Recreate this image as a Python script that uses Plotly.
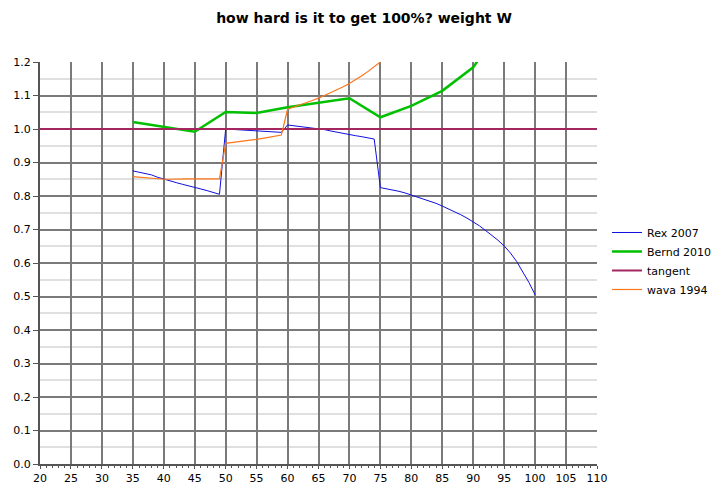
import plotly.graph_objects as go

# Rex 2007
rex_x = list(range(35, 101))
rex_y = [0.875, 0.871, 0.868, 0.863, 0.856, 0.850, 0.846, 0.840, 0.835, 0.831,
         0.826, 0.821, 0.816, 0.811, 0.805,
         1.000, 0.999, 0.998, 0.997, 0.997, 0.996, 0.995, 0.993, 0.992, 0.990,
         1.012, 1.010, 1.008, 1.006, 1.004, 1.001, 0.998, 0.994, 0.990, 0.986,
         0.982, 0.980, 0.977, 0.974, 0.970,
         0.825, 0.822, 0.818, 0.814, 0.809, 0.803, 0.797, 0.791, 0.785, 0.778,
         0.770, 0.762, 0.754, 0.744, 0.734, 0.723, 0.711, 0.697, 0.683, 0.668,
         0.651, 0.630, 0.605, 0.575, 0.542, 0.505]

# Bernd 2010
bernd_x = [35, 40, 45, 50, 55, 60, 65, 70, 75, 80, 85, 90, 95]
bernd_y = [1.021, 1.006, 0.992, 1.051, 1.048, 1.065, 1.078, 1.092, 1.035,
           1.069, 1.114, 1.184, 1.32]

# tangent
tan_x = [20, 110]
tan_y = [1.0, 1.0]

# wava 1994
wava_x = list(range(35, 76))
wava_y = [0.858, 0.856, 0.855, 0.853, 0.851, 0.850, 0.850, 0.851, 0.851, 0.851,
          0.851, 0.851, 0.851, 0.851, 0.851,
          0.957, 0.959, 0.961, 0.963, 0.966, 0.969, 0.972, 0.975, 0.978, 0.982,
          1.059, 1.065, 1.071, 1.078, 1.085, 1.092, 1.100, 1.108, 1.117, 1.126,
          1.136, 1.147, 1.159, 1.172, 1.186, 1.200]

x_ticks = list(range(20, 111, 5))

fig = go.Figure()
fig.add_trace(go.Scatter(x=rex_x, y=rex_y, mode="lines", name="Rex 2007",
                         line=dict(color="#1010e0", width=1)))
fig.add_trace(go.Scatter(x=bernd_x, y=bernd_y, mode="lines", name="Bernd 2010",
                         line=dict(color="#00c000", width=2.5)))
fig.add_trace(go.Scatter(x=tan_x, y=tan_y, mode="lines", name="tangent",
                         line=dict(color="#a3265f", width=2)))
fig.add_trace(go.Scatter(x=wava_x, y=wava_y, mode="lines", name="wava 1994",
                         line=dict(color="#ff7518", width=1.2)))

font = "DejaVu Sans, Verdana, sans-serif"
fig.update_layout(
    width=712, height=492,
    paper_bgcolor="white", plot_bgcolor="white",
    margin=dict(l=32, r=123, t=54, b=36, autoexpand=False),
    font=dict(family=font, size=11, color="#000000"),
    title=dict(text="<b>how hard is it to get 100%? weight W</b>",
               x=0.5, xanchor="center", y=0.98, yanchor="middle",
               font=dict(family=font, size=14, color="#000000")),
    legend=dict(x=1.018, xanchor="left", y=0.505, yanchor="middle",
                font=dict(family=font, size=11), tracegroupgap=0,
                itemwidth=30, bgcolor="rgba(0,0,0,0)"),
    showlegend=True,
)
fig.update_xaxes(range=[20, 110], tickmode="array", tickvals=x_ticks,
                 ticktext=[str(v) for v in x_ticks], automargin=False,
                 showgrid=True, gridcolor="#7a7a7a", gridwidth=2,
                 showline=True, linecolor="#555555", linewidth=2,
                 ticks="outside", ticklen=3, tickcolor="#555555",
                 minor=dict(dtick=1, tick0=20, ticks="outside", ticklen=2,
                            tickcolor="#555555", showgrid=False),
                 zeroline=False, fixedrange=True)
fig.update_yaxes(range=[0, 1.2], dtick=0.1, tick0=0, tickformat=".1f",
                 automargin=False,
                 showgrid=True, gridcolor="#7a7a7a", gridwidth=2,
                 showline=True, linecolor="#555555", linewidth=2,
                 ticks="outside", ticklen=5, tickcolor="#555555",
                 minor=dict(dtick=0.05, tick0=0, showgrid=True,
                            gridcolor="#e0e0e0", gridwidth=2, ticks=""),
                 zeroline=False, fixedrange=True)

fig.write_html("out.html")
